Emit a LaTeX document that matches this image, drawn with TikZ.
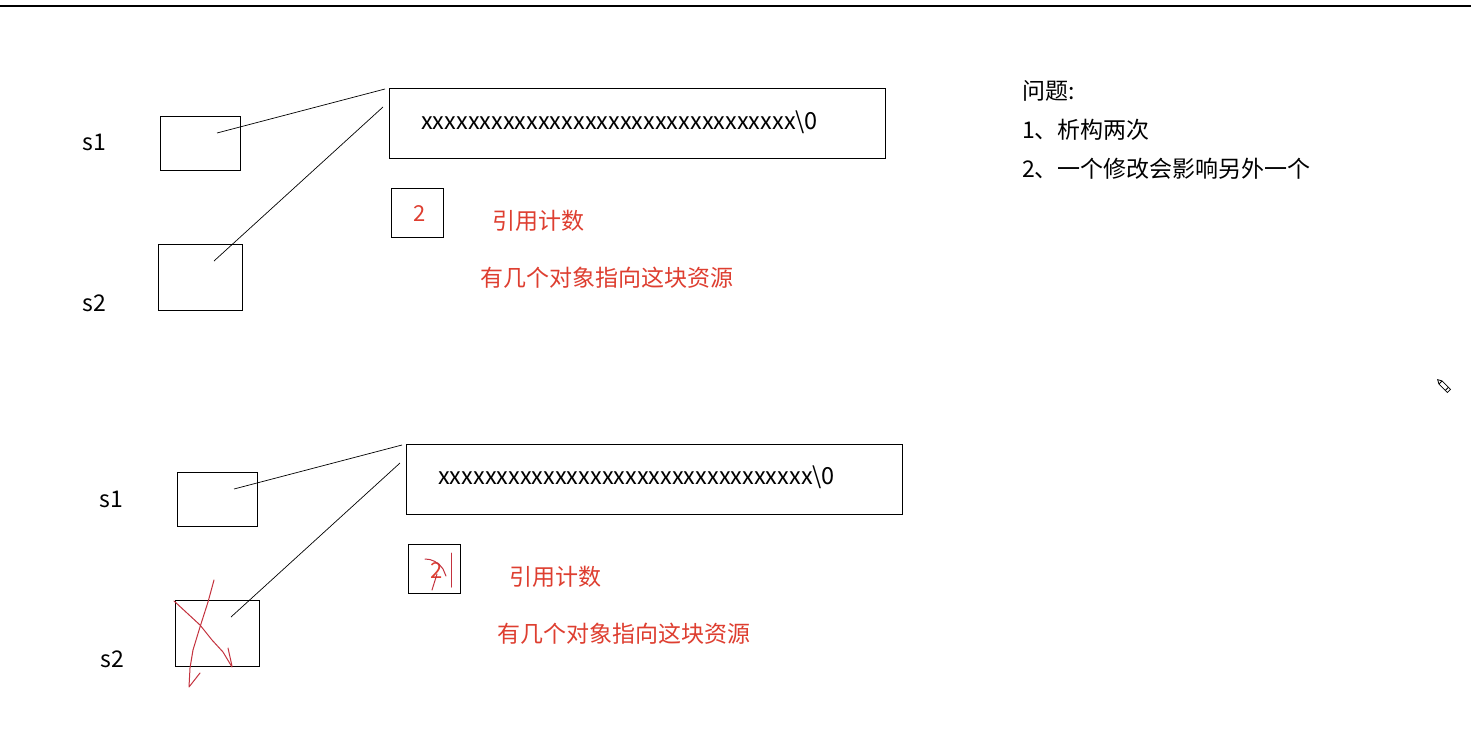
\documentclass[tikz,border=0pt]{standalone}
\usepackage{fontspec}
\setmainfont{Noto Sans CJK SC}
\newfontfamily\cjk{Noto Sans CJK SC}
\definecolor{annred}{RGB}{222,62,48}
\definecolor{scribred}{RGB}{196,50,62}
\begin{document}
\begin{tikzpicture}[x=1pt,y=-1pt,
  box/.style={draw=black,line width=0.9pt,inner sep=0pt,anchor=north west},
  lbl/.style={font=\fontsize{23}{26}\selectfont,inner sep=0pt,text=black},
  buftxt/.style={font=\fontsize{23.5}{26}\selectfont,inner sep=0pt,text=black,anchor=west},
  qtxt/.style={font=\fontsize{23}{26}\selectfont\cjk,inner sep=0pt,text=black,anchor=west},
  rtxt/.style={font=\fontsize{23}{26}\selectfont\cjk,inner sep=0pt,text=annred},
  ptr/.style={draw=black,line width=0.7pt},
  scrib/.style={draw=scribred,line width=1pt,line cap=round,line join=round}]
\useasboundingbox (0,0) rectangle (1471,728);
\fill[white] (0,0) rectangle (1471,728);
\draw[line width=1.3pt] (0,6) -- (1471,6);

% ---------- top section ----------
\node[lbl] (s1a) at (94,142) {s1};
\node[lbl] (s2a) at (94,303) {s2};
\node[box,minimum width=80pt,minimum height=54pt] (b1a) at (160,116) {};
\node[box,minimum width=84pt,minimum height=66pt] (b2a) at (158,244) {};
\node[box,minimum width=496pt,minimum height=70pt] (bufa) at (389,88) {};
\node[buftxt] (txa) at (421,122) {xxxxxxxxxxxxxxxxxxxxxxxxxxxxxxxx\textbackslash 0};
\coordinate (p1a) at (217,133);
\coordinate (q1a) at (385,89);
\coordinate (p2a) at (214,261);
\coordinate (q2a) at (383,107);
\draw[ptr] (p1a) -- (q1a);
\draw[ptr] (p2a) -- (q2a);
\node[box,minimum width=52pt,minimum height=49pt] (cnta) at (391,188) {};
\node[rtxt,font=\fontsize{22}{24}\selectfont] (twoa) at (420,214) {2};
\node[rtxt] (rca) at (538,221) {引用计数};
\node[rtxt] (desca) at (607,278) {有几个对象指向这块资源};

% ---------- questions ----------
\node[qtxt] (q0) at (1022,91) {问题:};
\node[qtxt] (q1) at (1022,130) {1、析构两次};
\node[qtxt] (q2) at (1022,169) {2、一个修改会影响另外一个};

% ---------- pencil icon ----------
\begin{scope}[shift={(1444,386)},rotate=-45]
  \draw[line width=0.8pt,fill=white] (-5,-2.2) -- (7,-2.2) -- (7,2.2) -- (-5,2.2) -- (-9,0) -- cycle;
  \draw[line width=0.8pt] (4,-2.2) -- (4,2.2);
  \draw[line width=0.8pt] (-5,-2.2) -- (-5,2.2);
\end{scope}

% ---------- bottom section ----------
\node[lbl] (s1b) at (111,499) {s1};
\node[lbl] (s2b) at (112,659) {s2};
\node[box,minimum width=80pt,minimum height=54pt] (b1b) at (177,472) {};
\node[box,minimum width=84pt,minimum height=66pt] (b2b) at (175,600) {};
\node[box,minimum width=496pt,minimum height=70pt] (bufb) at (406,444) {};
\node[buftxt] (txb) at (438,477) {xxxxxxxxxxxxxxxxxxxxxxxxxxxxxxxx\textbackslash 0};
\coordinate (p1b) at (234,489);
\coordinate (q1b) at (402,445);
\coordinate (p2b) at (231,617);
\coordinate (q2b) at (400,463);
\draw[ptr] (p1b) -- (q1b);
\draw[ptr] (p2b) -- (q2b);
\node[box,minimum width=52pt,minimum height=49pt] (cntb) at (408,544) {};
\node[rtxt,font=\fontsize{22}{24}\selectfont] (twob) at (437,571) {2};
\node[rtxt] (rcb) at (555,577) {引用计数};
\node[rtxt] (descb) at (624,634) {有几个对象指向这块资源};

% scribbles over the count
\draw[scrib] (425,559) .. controls (432,559) and (438,562) .. (443,569) -- (446,576);
\draw[scrib] (437,574) -- (432,590);
\draw[scrib] (451,553) -- (451,587);

% crossing-out of s2
\draw[scrib] (174,601) -- (200,625) -- (212,640) -- (223,652) -- (232,667);
\draw[scrib] (214,580) -- (208,602) -- (200,627) -- (193,650) -- (190,668) -- (189,687) -- (200,673);
\draw[scrib] (228,648) -- (232,666);
\end{tikzpicture}
\end{document}
